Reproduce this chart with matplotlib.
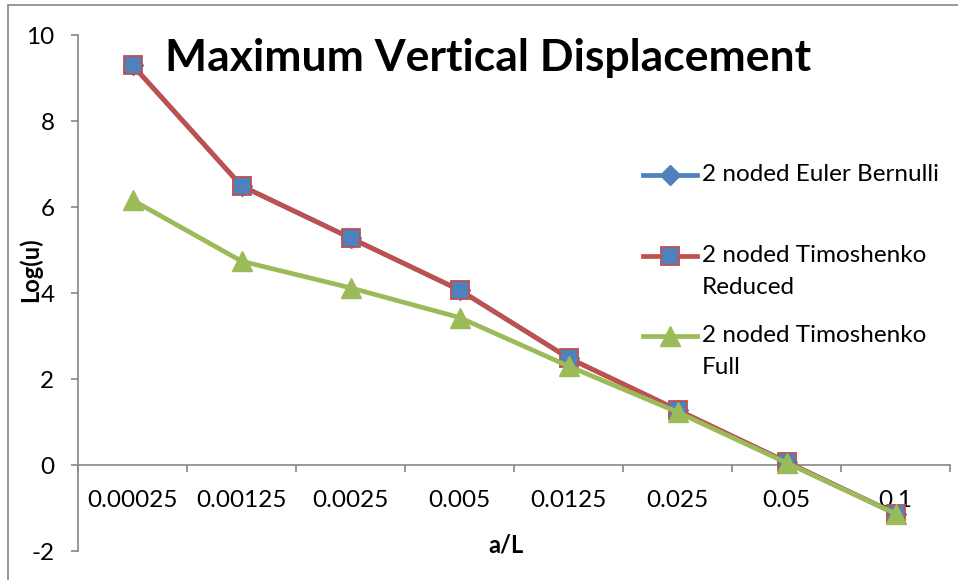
import matplotlib
matplotlib.use("Agg")
import matplotlib.pyplot as plt
from matplotlib.lines import Line2D
from matplotlib.patches import Rectangle

plt.rcParams['font.family'] = ['Lato', 'DejaVu Sans']
plt.rcParams['axes.unicode_minus'] = False

categories = ["0.00025", "0.00125", "0.0025", "0.005", "0.0125", "0.025", "0.05", "0.1"]
euler = [9.30, 6.49, 5.28, 4.07, 2.49, 1.28, 0.07, -1.13]
timo_reduced = [9.30, 6.49, 5.28, 4.07, 2.49, 1.28, 0.07, -1.13]
timo_full = [6.16, 4.74, 4.12, 3.43, 2.30, 1.23, 0.05, -1.13]
series_names = ["2 noded Euler Bernulli", "2 noded Timoshenko\nReduced", "2 noded Timoshenko\nFull"]
title = "Maximum Vertical Displacement"
xlabel = "a/L"
ylabel = "Log(u)"

BLUE = "#4F81BD"
RED = "#C0504D"
GREEN = "#9BBB59"
GREY = "#868686"

W, H = 958, 580
fig = plt.figure(figsize=(W / 100, H / 100), dpi=100)
ax = fig.add_axes([78 / W, 1 - 551 / H, 872 / W, 516 / H])

x = list(range(len(categories)))
styles = [
    dict(color=BLUE, marker="D", markersize=10, markerfacecolor=BLUE, markeredgecolor=BLUE),
    dict(color=RED, marker="s", markersize=13.5, markerfacecolor=BLUE, markeredgecolor=RED, markeredgewidth=1.3),
    dict(color=GREEN, marker="^", markersize=14, markerfacecolor=GREEN, markeredgecolor=GREEN),
]
for i, (vals, st) in enumerate(zip([euler, timo_reduced, timo_full], styles)):
    ax.plot(x, vals, linewidth=3.4, zorder=3 + i, clip_on=False, **st)

ax.set_xlim(-0.5, len(categories) - 0.5)
ax.set_ylim(-2, 10)
ax.set_yticks(range(-2, 11, 2))

for s in ["top", "right"]:
    ax.spines[s].set_visible(False)
ax.spines["bottom"].set_position(("data", 0))
for s in ["left", "bottom"]:
    ax.spines[s].set_color(GREY)
    ax.spines[s].set_linewidth(1.2)

ax.set_xticks([i - 0.5 for i in range(len(categories) + 1)])
ax.set_xticklabels([])
ax.set_xticks(x, minor=True)
ax.set_xticklabels(categories, minor=True)
ax.tick_params(axis="x", which="major", direction="out", length=5, width=1.2, color=GREY)
ax.tick_params(axis="x", which="minor", length=0, pad=18, labelsize=17.5)
ax.tick_params(axis="y", direction="out", length=5, width=1.2, color=GREY, pad=12, labelsize=17.5)

ax.text(0.47, 0.955, title, transform=ax.transAxes, ha="center", va="center",
        fontsize=32, fontweight="bold")
fig.text(506 / W, 1 - 545 / H, xlabel, ha="center", va="center", fontsize=17, fontweight="bold")
fig.text(30 / W, 1 - 270 / H, ylabel, ha="center", va="center", rotation=90,
         fontsize=17, fontweight="bold")

# legend (manual, Excel-like layout)
leg_y = [175, 256, 336]
for name, st, yy in zip(series_names, styles, leg_y):
    yf = 1 - yy / H
    fig.add_artist(Line2D([643 / W, 697 / W], [yf, yf], transform=fig.transFigure,
                          linewidth=3.4, color=st["color"]))
    fig.add_artist(Line2D([670 / W], [yf], transform=fig.transFigure, linestyle="none",
                          **{k: v for k, v in st.items() if k != "color"}))
    fig.text(702 / W, yf + 11 / H, name, ha="left", va="top", fontsize=17.5, linespacing=1.65,
             transform=fig.transFigure)

fig.add_artist(Rectangle((8 / W, -0.5), 2, 1.5 - 5 / H, transform=fig.transFigure,
                         fill=False, edgecolor=GREY, linewidth=1.2))

fig.savefig("out.png", dpi=100)
